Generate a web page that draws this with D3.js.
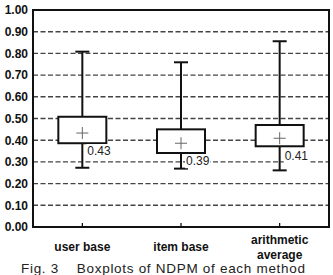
<!DOCTYPE html>
<html>
<head>
<meta charset="utf-8">
<script src="https://cdn.jsdelivr.net/npm/d3@7"></script>
<style>
  html, body { margin: 0; padding: 0; background: #fff; }
  svg { display: block; }
</style>
</head>
<body>
<div id="chart"></div>
<script>
// data
const methods = ['user base', 'item base', 'arithmetic average']
const methodLines = [['user base'], ['item base'], ['arithmetic', 'average']]
const whiskerLow = [0.273, 0.269, 0.261]
const q1 = [0.386, 0.341, 0.372]
const q3 = [0.508, 0.450, 0.470]
const whiskerHigh = [0.808, 0.759, 0.856]
const means = [0.433, 0.386, 0.409]
const meanLabels = ['0.43', '0.39', '0.41']
const yTicks = [0, 0.1, 0.2, 0.3, 0.4, 0.5, 0.6, 0.7, 0.8, 0.9, 1.0]
const caption = 'Fig. 3\u00a0\u00a0\u00a0\u00a0Boxplots of NDPM of each method'

const width = 333, height = 275
const margin = { top: 10, right: 4, bottom: 48, left: 33 }

const svg = d3.select('#chart').append('svg')
  .attr('width', width)
  .attr('height', height)
  .attr('font-family', 'Liberation Sans, Arial, sans-serif')

const x = d3.scaleBand()
  .domain(methods)
  .range([margin.left, width - margin.right])
  .padding(0)

const y = d3.scaleLinear()
  .domain([0, 1])
  .range([height - margin.bottom, margin.top])

// dashed grid lines
svg.append('g')
  .attr('stroke', '#444')
  .attr('stroke-width', 1.4)
  .attr('stroke-dasharray', '5,2.5')
  .selectAll('line')
  .data(yTicks.filter(d => d > 0 && d < 1))
  .join('line')
  .attr('x1', margin.left)
  .attr('x2', width - margin.right)
  .attr('y1', d => y(d))
  .attr('y2', d => y(d))

// y axis labels
const yAxis = d3.axisLeft(y).tickValues(yTicks).tickFormat(d3.format('.2f')).tickSize(0).tickPadding(5)
svg.append('g')
  .attr('transform', `translate(${margin.left},0)`)
  .call(yAxis)
  .call(g => g.select('.domain').remove())
  .call(g => g.selectAll('text')
    .attr('font-size', 12)
    .attr('font-weight', 'bold')
    .attr('font-family', 'Liberation Sans, Arial, sans-serif')
    .attr('fill', '#111'))

// x axis: small inward ticks at category centres
const xAxis = d3.axisBottom(x).tickSize(-4).tickFormat('')
svg.append('g')
  .attr('transform', `translate(0,${y(0)})`)
  .call(xAxis)
  .call(g => g.select('.domain').remove())
  .call(g => g.selectAll('.tick line').attr('stroke', '#000').attr('stroke-width', 1.2))

// category labels
const xl = svg.append('g')
  .selectAll('text')
  .data(methods)
  .join('text')
  .attr('x', d => x(d) + x.bandwidth() / 2)
  .attr('text-anchor', 'middle')
  .attr('font-size', 12)
  .attr('font-weight', 'bold')
  .attr('fill', '#111')
xl.each(function (d, i) {
  const lines = methodLines[i]
  const startY = lines.length === 1 ? 251 : 243.5
  d3.select(this).selectAll('tspan')
    .data(lines)
    .join('tspan')
    .attr('x', x(d) + x.bandwidth() / 2)
    .attr('y', (t, j) => startY + j * 15)
    .text(t => t)
})

// boxes
const halfBox = 24
const capHalf = 7
const box = svg.append('g')
  .selectAll('g')
  .data(methods)
  .join('g')
  .attr('transform', d => `translate(${x(d) + x.bandwidth() / 2},0)`)

box.append('line')
  .attr('x1', 0).attr('x2', 0)
  .attr('y1', (d, i) => y(whiskerHigh[i]))
  .attr('y2', (d, i) => y(whiskerLow[i]))
  .attr('stroke', '#111')
  .attr('stroke-width', 2)

box.append('line')
  .attr('x1', -capHalf).attr('x2', capHalf)
  .attr('y1', (d, i) => y(whiskerHigh[i]))
  .attr('y2', (d, i) => y(whiskerHigh[i]))
  .attr('stroke', '#111')
  .attr('stroke-width', 2)

box.append('line')
  .attr('x1', -capHalf).attr('x2', capHalf)
  .attr('y1', (d, i) => y(whiskerLow[i]))
  .attr('y2', (d, i) => y(whiskerLow[i]))
  .attr('stroke', '#111')
  .attr('stroke-width', 2)

box.append('rect')
  .attr('x', -halfBox)
  .attr('width', halfBox * 2)
  .attr('y', (d, i) => y(q3[i]))
  .attr('height', (d, i) => y(q1[i]) - y(q3[i]))
  .attr('fill', '#fff')
  .attr('stroke', '#111')
  .attr('stroke-width', 2)

// mean marker "+"
box.append('path')
  .attr('d', (d, i) => `M-6,${y(means[i])}H6M0,${y(means[i]) - 6}V${y(means[i]) + 6}`)
  .attr('stroke', '#666')
  .attr('stroke-width', 1)
  .attr('fill', 'none')

// mean labels with white background
const lab = box.append('g')
  .attr('transform', (d, i) => `translate(4,${y(means[i]) + 18})`)
lab.append('rect')
  .attr('x', 0).attr('y', -7)
  .attr('width', 25).attr('height', 14)
  .attr('fill', '#fff')
lab.append('text')
  .attr('x', 1)
  .attr('dy', '0.35em')
  .attr('font-size', 12)
  .attr('fill', '#222')
  .text((d, i) => meanLabels[i])

// frame
svg.append('rect')
  .attr('x', margin.left)
  .attr('y', margin.top)
  .attr('width', width - margin.left - margin.right)
  .attr('height', y(0) - margin.top)
  .attr('fill', 'none')
  .attr('stroke', '#111')
  .attr('stroke-width', 2)

// caption at the bottom edge
svg.append('text')
  .attr('x', 21)
  .attr('y', 272.5)
  .attr('font-size', 13.5)
  .attr('fill', '#222')
  .attr('textLength', 284)
  .attr('lengthAdjust', 'spacing')
  .text(caption)
</script>
</body>
</html>
